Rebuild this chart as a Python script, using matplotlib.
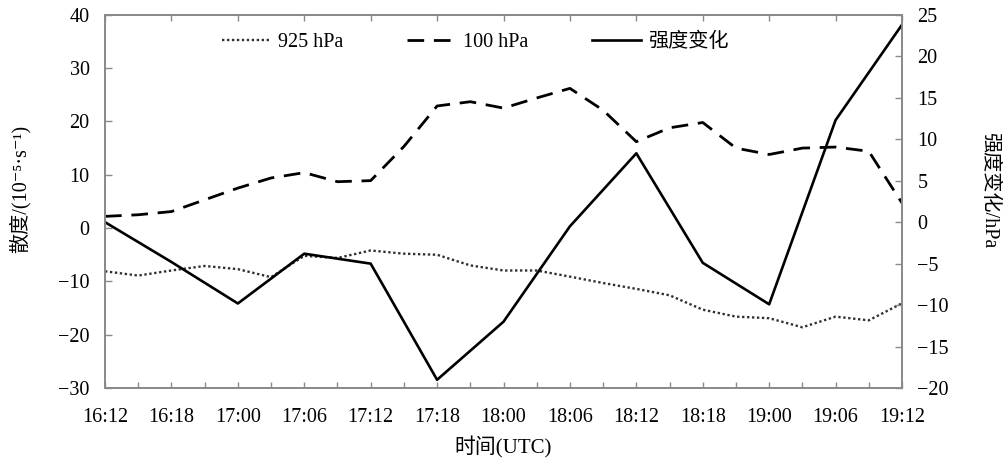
import matplotlib
matplotlib.use("Agg")
import matplotlib.pyplot as plt
import numpy as np

plt.rcParams['font.family'] = ['Liberation Serif', 'Noto Sans CJK SC', 'DejaVu Serif']
plt.rcParams['axes.unicode_minus'] = True

# Data
time_labels = ["16:12", "16:18", "17:00", "17:06", "17:12", "17:18", "18:00",
               "18:06", "18:12", "18:18", "19:00", "19:06", "19:12"]
div_925 = [-8.1, -8.9, -7.95, -7.1, -7.7, -9.2, -5.2, -5.6, -4.2, -4.8, -5.0, -7.0,
           -7.95, -7.95, -9.1, -10.3, -11.4, -12.6, -15.3, -16.6, -16.9, -18.6,
           -16.6, -17.3, -14.1]
div_100 = [2.2, 2.5, 3.1, 5.3, 7.5, 9.4, 10.4, 8.7, 8.9, 15.3, 22.9, 23.7,
           22.5, 24.4, 26.2, 22.1, 16.2, 18.8, 19.8, 15.0, 13.8, 15.0, 15.2, 14.4, 4.7]
intensity = [0.0, -4.8, -9.8, -3.8, -5.0, -19.0, -12.0, -0.5, 8.3, -4.9, -9.9, 12.3, 23.8]

x_all = np.arange(len(div_925))
x_major = np.arange(0, len(div_925), 2)

fig = plt.figure(figsize=(10.04, 4.62), dpi=100)
ax = fig.add_axes([0.1046, 0.160, 0.7938, 0.808])
ax2 = ax.twinx()

l1, = ax.plot(x_all, div_925, color='#303030', lw=1.7, linestyle=(0, (1, 1.1)),
              label='925 hPa')
l2, = ax.plot(x_all, div_100, color='black', lw=2.0, linestyle=(0, (6, 3.5)),
              label='100 hPa')
l3, = ax2.plot(x_major, intensity, color='black', lw=1.9, label='强度变化')

ax.set_xlim(0, 24)
ax.set_ylim(-30, 40)
ax.set_yticks(np.arange(-30, 41, 10))
ax2.set_ylim(-20, 25)
ax2.set_yticks(np.arange(-20, 26, 5))

ax.set_xticks(x_major)
ax.set_xticklabels(time_labels)
ax.set_xticks(x_all, minor=True)

spine_c = '#8a8a8a'
for a in (ax, ax2):
    for s in a.spines.values():
        s.set_color(spine_c)
        s.set_linewidth(1.3)

fs = 14.5
ax.tick_params(axis='x', which='both', direction='in', color=spine_c, length=4,
               width=1.0, labelsize=fs, pad=14, top=False)
ax.tick_params(axis='x', which='major', top=True)
ax.tick_params(axis='y', direction='in', color=spine_c, length=5, width=1.0,
               labelsize=fs, pad=11)
ax2.tick_params(axis='y', direction='in', color=spine_c, length=5, width=1.0,
                labelsize=fs, pad=11)

ax.set_ylabel('散度/(10⁻⁵·s⁻¹)', fontsize=14.5)
ax.yaxis.label.set_va('center')
ax.yaxis.set_label_coords((20 - 105) / 797, 1 - (189 - 14.7) / 373.3)
ax2.set_ylabel('强度变化/hPa', fontsize=14.5, rotation=270)
ax2.yaxis.label.set_va('center')
ax2.yaxis.set_label_coords((989 - 105) / 797, 1 - (190 - 14.7) / 373.3)
ax.set_xlabel('时间(UTC)', fontsize=15, labelpad=7)

ax.legend(handles=[l1, l2, l3], loc='upper left',
          bbox_to_anchor=((204 - 105) / 797, 1.0),
          ncol=3, frameon=False, fontsize=fs, handlelength=2.4,
          columnspacing=3.2, handletextpad=0.35)

fig.savefig('out.png', dpi=100, facecolor='white')
